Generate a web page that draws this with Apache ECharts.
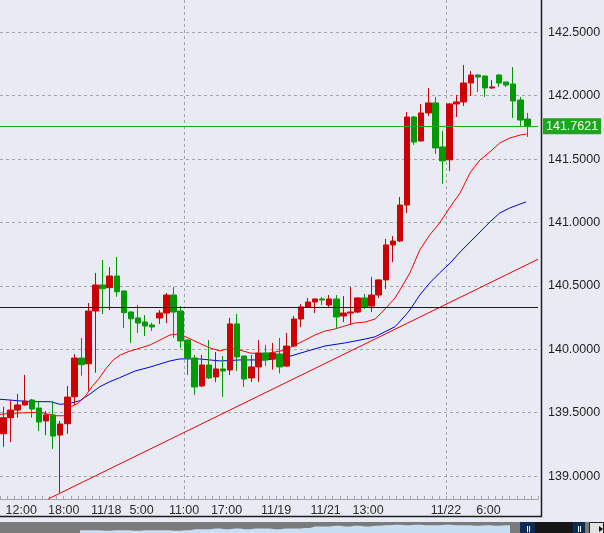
<!DOCTYPE html>
<html>
<head>
<meta charset="utf-8">
<title>1時間足チャート</title>
<script src="https://cdn.jsdelivr.net/npm/echarts@6/dist/echarts.min.js"></script>
<style>
  html, body { margin: 0; padding: 0; background: #e8ebf3; }
  #chart { width: 604px; height: 533px; }
</style>
</head>
<body>
<div id="chart"></div>
<script>
// 1時間足 [始値, 終値, 安値, 高値]
const ohlc = [
  [139.334, 139.461, 139.232, 139.547], [139.461, 139.521, 139.269, 139.600],
  [139.521, 139.561, 139.461, 139.647], [139.561, 139.592, 139.555, 139.798],
  [139.600, 139.529, 139.461, 139.608], [139.537, 139.427, 139.356, 139.587],
  [139.435, 139.482, 139.324, 139.513], [139.482, 139.316, 139.214, 139.592],
  [139.324, 139.411, 138.869, 139.435], [139.413, 139.623, 139.334, 139.711],
  [139.626, 139.931, 139.563, 139.961], [139.931, 139.879, 139.792, 140.089],
  [139.886, 140.302, 139.673, 140.365], [140.302, 140.507, 139.815, 140.602],
  [140.507, 140.478, 140.278, 140.704], [140.486, 140.578, 140.310, 140.647],
  [140.578, 140.454, 140.415, 140.728], [140.460, 140.289, 140.168, 140.462],
  [140.294, 140.241, 140.050, 140.300], [140.247, 140.207, 140.129, 140.349],
  [140.215, 140.184, 140.105, 140.270], [140.192, 140.176, 140.144, 140.210],
  [140.247, 140.286, 140.200, 140.310], [140.286, 140.428, 140.207, 140.444],
  [140.428, 140.294, 140.089, 140.491], [140.302, 140.066, 140.010, 140.341],
  [140.073, 139.931, 139.797, 140.080], [139.931, 139.703, 139.640, 139.955],
  [139.711, 139.876, 139.703, 139.955], [139.876, 139.774, 139.766, 140.073],
  [139.782, 139.845, 139.742, 139.979], [139.845, 139.829, 139.624, 139.947],
  [139.837, 140.200, 139.797, 140.247], [140.200, 139.940, 139.829, 140.278],
  [139.947, 139.766, 139.703, 139.950], [139.774, 139.861, 139.742, 139.955],
  [139.861, 139.971, 139.742, 140.073], [139.971, 139.916, 139.870, 140.034],
  [139.924, 139.971, 139.840, 140.050], [139.963, 139.861, 139.810, 140.089],
  [139.868, 140.026, 139.860, 140.129], [140.026, 140.239, 140.018, 140.263],
  [140.239, 140.334, 140.176, 140.357], [140.334, 140.373, 140.326, 140.405],
  [140.373, 140.397, 140.286, 140.400], [140.397, 140.389, 140.349, 140.412],
  [140.349, 140.397, 140.334, 140.428], [140.397, 140.255, 140.160, 140.428],
  [140.263, 140.286, 140.215, 140.420], [140.286, 140.294, 140.192, 140.491],
  [140.294, 140.405, 140.286, 140.410], [140.405, 140.334, 140.318, 140.436],
  [140.341, 140.428, 140.294, 140.570], [140.428, 140.547, 140.405, 140.552],
  [140.547, 140.823, 140.476, 140.870], [140.823, 140.854, 140.688, 140.894],
  [140.854, 141.138, 140.846, 141.201], [141.138, 141.832, 141.075, 141.872],
  [141.832, 141.635, 141.612, 141.840], [141.643, 141.864, 141.640, 141.935],
  [141.864, 141.943, 141.840, 142.061], [141.943, 141.588, 141.541, 141.990],
  [141.596, 141.486, 141.305, 141.722], [141.494, 141.935, 141.407, 141.940],
  [141.935, 141.951, 141.832, 142.006], [141.951, 142.100, 141.919, 142.242],
  [142.100, 142.163, 141.998, 142.194], [142.163, 142.147, 142.030, 142.170],
  [142.155, 142.061, 141.990, 142.160], [142.061, 142.069, 142.053, 142.124],
  [142.163, 142.100, 142.069, 142.170], [142.108, 142.084, 142.069, 142.110],
  [142.092, 141.958, 141.824, 142.226], [141.966, 141.808, 141.753, 141.990],
  [141.816, 141.762, 141.675, 141.864]
]

// 短期移動平均 [足の位置, 値]
const maShort = [
  [-0.5, 139.487], [2.3, 139.498], [5.15, 139.503], [7.3, 139.476], [8.5, 139.476],
  [9.5, 139.547], [10.5, 139.574], [11.5, 139.626], [12.5, 139.705], [13.5, 139.771],
  [14.5, 139.850], [15.5, 139.916], [16.5, 139.955], [17.6, 139.981], [19.3, 140.010],
  [20.7, 140.034], [22.1, 140.073], [23.5, 140.113], [24.9, 140.121], [26.3, 140.084],
  [27.7, 140.047], [29.2, 140.010], [30.6, 139.987], [32.0, 140.010], [33.4, 139.994],
  [34.8, 139.971], [36.9, 139.963], [39.8, 139.994], [41.2, 140.034], [42.6, 140.073],
  [44.0, 140.113], [45.4, 140.144], [46.8, 140.160], [48.2, 140.184], [49.6, 140.207],
  [51.1, 140.215], [52.5, 140.239], [53.9, 140.318], [55.3, 140.405], [56.0, 140.468],
  [57.4, 140.602], [58.8, 140.783], [60.2, 140.902], [61.6, 140.996], [63.1, 141.123],
  [64.5, 141.233], [65.9, 141.391], [67.3, 141.493], [68.7, 141.556], [70.1, 141.627],
  [71.5, 141.666], [73.0, 141.690], [73.9, 141.698]
]

// 長期移動平均 [足の位置, 値]
const maLong = [
  [-0.5, 139.606], [3.7, 139.587], [6.6, 139.587], [8.0, 139.566], [9.4, 139.574],
  [10.8, 139.595], [12.2, 139.647], [13.6, 139.705], [15.0, 139.744], [16.4, 139.776],
  [18.6, 139.829], [20.7, 139.860], [22.1, 139.884], [23.5, 139.908], [24.9, 139.924],
  [27.7, 139.924], [30.6, 139.908], [33.4, 139.916], [36.9, 139.916], [39.8, 139.934],
  [42.6, 139.981], [45.4, 140.026], [48.2, 140.050], [51.1, 140.081], [52.5, 140.099],
  [53.9, 140.139], [55.3, 140.178], [56.7, 140.263], [57.4, 140.310], [58.8, 140.428],
  [60.2, 140.523], [61.6, 140.602], [63.1, 140.681], [64.5, 140.767], [65.9, 140.846],
  [67.3, 140.925], [68.7, 141.004], [70.1, 141.075], [71.5, 141.114], [73.0, 141.146],
  [73.8, 141.162]
]

// トレンドライン
const trendLine = [[6.32, 138.82], [75.5, 140.71]]

// 水平線
const supportLevel = 140.331
const lastPrice = 141.7621

// 時間軸のラベル (足の境目)
const tickIndex = [3, 9, 15, 20, 26, 32, 39, 46, 52, 63, 69]
const tickText = ['12:00', '18:00', '11/18', '5:00', '11:00', '17:00', '11/19', '11/21', '13:00', '11/22', '6:00']
const dayLines = [26, 63]

// 下のナビゲーター
const overview = [
  null, null, null, null, null, null, null, null,
  2.5, 2.5, 2, 2.5, 2.5, 2, 2.5, 2.5, 2.5, 2, 2.5,
  3.5, 3.5, 4, 3.5, 4, 3.5, 4, 4, 3.5, 4, 4, 4.5,
  6, 6, 6.5, 6, 6.5, 6, 6.5,
  7, 7.5, 7, 7.5, 7, 7, 7.5, 7, 7, 6.5, 7, 6.5, 7,
  null
]

const slots = ohlc.map((_, i) => i).concat([ohlc.length])
const hourAxis = Array.from({ length: ohlc.length + 2 }, (_, i) => {
  const k = tickIndex.indexOf(i)
  return k >= 0 ? tickText[k] : ''
})

const FONT = 'Liberation Sans'
const UP = '#cc0000'
const DOWN = '#009a00'

const option = {
  animation: false,
  backgroundColor: '#e8ebf3',
  grid: [
    // ローソク足 (上下は 143.0〜138.5 に合わせて画面外まで広げる)
    { left: 0, width: 538, top: -31.1, height: 570.6, outerBoundsMode: 'none' },
    // 時間軸
    { left: 0, width: 538, top: 0, height: 499, outerBoundsMode: 'none' },
    // ナビゲーター
    { left: 0, width: 520, top: 522, height: 11, show: true, backgroundColor: '#7b7b7b', borderWidth: 0, outerBoundsMode: 'none' }
  ],
  xAxis: [
    { type: 'category', gridIndex: 0, data: slots, show: false },
    { type: 'value', gridIndex: 0, min: -0.5, max: slots.length - 0.5, show: false },
    {
      type: 'category',
      gridIndex: 1,
      data: hourAxis,
      boundaryGap: false,
      axisLine: { lineStyle: { color: '#a6a6a6', width: 1 } },
      axisTick: { inside: true, length: 3, interval: 0, lineStyle: { color: '#a6a6a6' } },
      axisLabel: { interval: 0, margin: 5, color: '#2b2b2b', fontSize: 12.5, fontFamily: FONT },
      splitLine: {
        show: true,
        interval: (i) => dayLines.includes(i),
        lineStyle: { color: '#a5a5a5', type: [3, 3], width: 1 }
      }
    },
    { type: 'category', gridIndex: 2, data: overview.map((_, i) => i), show: false }
  ],
  yAxis: [
    {
      type: 'value',
      gridIndex: 0,
      position: 'right',
      offset: 3,
      min: 138.5,
      max: 143,
      interval: 0.5,
      axisLine: { show: false },
      axisTick: { show: false },
      axisLabel: {
        margin: 7,
        color: '#1e1e1e',
        fontSize: 12.5,
        fontFamily: FONT,
        formatter: (v) => (v >= 139 && v <= 142.5 ? v.toFixed(4) : '')
      },
      splitLine: { show: true, lineStyle: { color: '#a5a5a5', type: [3, 3], width: 1 } }
    },
    { type: 'value', gridIndex: 1, show: false },
    { type: 'value', gridIndex: 2, min: 0, max: 10, show: false }
  ],
  series: [
    {
      name: 'trend',
      type: 'line',
      xAxisIndex: 1,
      yAxisIndex: 0,
      data: trendLine,
      showSymbol: false,
      lineStyle: { color: '#ee0000', width: 1 },
      z: 2
    },
    {
      name: 'ma long',
      type: 'line',
      xAxisIndex: 1,
      yAxisIndex: 0,
      data: maLong,
      showSymbol: false,
      lineStyle: { color: '#0000ee', width: 1 },
      z: 3
    },
    {
      name: 'ma short',
      type: 'line',
      xAxisIndex: 1,
      yAxisIndex: 0,
      data: maShort,
      showSymbol: false,
      lineStyle: { color: '#ff0000', width: 1 },
      z: 3
    },
    {
      name: 'price',
      type: 'candlestick',
      xAxisIndex: 0,
      yAxisIndex: 0,
      data: ohlc,
      barWidth: 6,
      itemStyle: {
        color: UP,
        color0: DOWN,
        borderColor: UP,
        borderColor0: DOWN,
        borderWidth: 1
      },
      z: 4,
      markLine: {
        symbol: 'none',
        silent: true,
        data: [
          { yAxis: supportLevel, lineStyle: { color: '#1a1a1a', width: 1.2, type: 'solid' }, label: { show: false } },
          {
            yAxis: lastPrice,
            lineStyle: { color: '#1fa81f', width: 1, type: 'solid' },
            label: {
              show: true,
              position: 'end',
              distance: 5,
              formatter: lastPrice.toFixed(4),
              color: '#fff',
              backgroundColor: '#1ea51e',
              padding: [2, 3, 1, 3],
              fontSize: 12.5,
              fontFamily: FONT
            }
          }
        ]
      }
    },
    {
      name: 'overview',
      type: 'line',
      xAxisIndex: 3,
      yAxisIndex: 2,
      data: overview,
      step: 'middle',
      showSymbol: false,
      lineStyle: { width: 0 },
      areaStyle: { color: '#c8def3', opacity: 1 }
    }
  ],
  graphic: [
    // 枠
    {
      type: 'polyline',
      shape: { points: [[0, 516.5], [541.5, 516.5], [541.5, 0]] },
      style: { stroke: '#1c1c1c', lineWidth: 1.5, fill: null }
    },
    // スクロールバーのつまみ
    { type: 'rect', shape: { x: 520, y: 522, width: 15, height: 11 }, style: { fill: '#0c2c55' } },
    { type: 'rect', shape: { x: 535, y: 522, width: 38, height: 11 }, style: { fill: '#161616' } },
    { type: 'rect', shape: { x: 573, y: 522, width: 12, height: 11 }, style: { fill: '#0c2c55' } },
    { type: 'rect', shape: { x: 527, y: 526, width: 1, height: 6 }, style: { fill: '#ffffff' } },
    { type: 'rect', shape: { x: 529, y: 526, width: 1, height: 6 }, style: { fill: '#ffffff' } },
    { type: 'rect', shape: { x: 578, y: 526, width: 1, height: 6 }, style: { fill: '#ffffff' } },
    { type: 'rect', shape: { x: 580, y: 526, width: 1, height: 6 }, style: { fill: '#ffffff' } },
    { type: 'rect', shape: { x: 585, y: 522, width: 4, height: 11 }, style: { fill: '#7b7b7b' } },
    { type: 'rect', shape: { x: 589.5, y: 522.5, width: 14, height: 11 }, style: { fill: '#e2e2e2', stroke: '#222', lineWidth: 1 } },
    { type: 'polygon', shape: { points: [[599, 526], [603, 529], [599, 532]] }, style: { fill: '#111' } }
  ]
}

const myChart = echarts.init(document.getElementById('chart'), null, { renderer: 'canvas' })
myChart.setOption(option)
</script>
</body>
</html>
